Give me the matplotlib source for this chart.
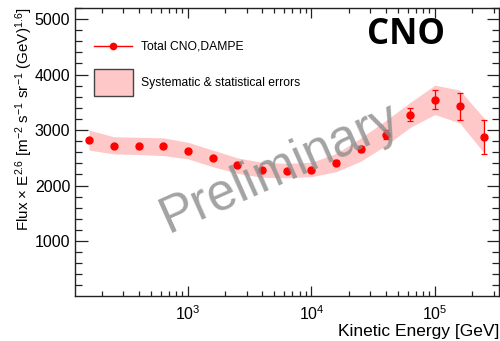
import matplotlib
matplotlib.use('Agg')
import matplotlib.pyplot as plt
from matplotlib.lines import Line2D
from matplotlib.patches import Rectangle
from matplotlib.ticker import LogLocator, MultipleLocator, NullFormatter
import numpy as np

plt.rcParams['font.family'] = ['Liberation Sans', 'DejaVu Sans']
plt.rcParams['mathtext.fontset'] = 'custom'
plt.rcParams['mathtext.rm'] = 'Liberation Sans'
plt.rcParams['mathtext.it'] = 'Liberation Sans:italic'
plt.rcParams['mathtext.default'] = 'regular'

# kinetic energy bins [GeV] and E^2.6-weighted flux
energy = [158, 251, 398, 631, 1000, 1585, 2512, 3981, 6310, 10000,
          15849, 25119, 39811, 63096, 100000, 158489, 251189]
flux = [2820, 2712, 2712, 2705, 2622, 2495, 2369, 2285, 2262, 2280,
        2415, 2658, 2920, 3280, 3550, 3430, 2880]
flux_err = [20, 20, 20, 20, 20, 20, 20, 25, 30, 35,
            45, 55, 75, 110, 175, 240, 306]
# systematic + statistical band edges
band_hi = [3000, 2880, 2870, 2860, 2780, 2640, 2500, 2420, 2400, 2420,
           2580, 2860, 3170, 3500, 3810, 3720, 3210]
band_lo = [2640, 2570, 2560, 2540, 2480, 2340, 2220, 2150, 2140, 2160,
           2250, 2440, 2720, 3050, 3280, 3130, 2580]

band_color = '#ffc8c8'

fig = plt.figure(figsize=(5.0, 3.41), dpi=100)
ax = fig.add_axes([0.15, 0.132, 0.848, 0.8445])

ax.fill_between(energy, band_lo, band_hi, color=band_color, lw=0, zorder=1)
ax.errorbar(energy, flux, yerr=flux_err, fmt='o', color='red', ms=5,
            elinewidth=0.9, capsize=2.5, capthick=0.9, zorder=3)

ax.set_xscale('log')
ax.set_xlim(121.6, 330000)
ax.set_ylim(10, 5200)

ax.yaxis.set_major_locator(MultipleLocator(1000))
ax.yaxis.set_minor_locator(MultipleLocator(200))
ax.xaxis.set_major_locator(LogLocator(base=10, numticks=10))
ax.xaxis.set_minor_locator(LogLocator(base=10, subs=np.arange(2, 10), numticks=10))
ax.xaxis.set_minor_formatter(NullFormatter())

ax.tick_params(which='both', direction='in', top=True, right=True,
               labelsize=11.5, color='#222222', width=0.9)
ax.tick_params(axis='y', which='major', length=9)
ax.tick_params(axis='y', which='minor', length=5)
ax.tick_params(axis='x', which='major', length=7, pad=6)
ax.tick_params(axis='x', which='minor', length=3.5)
for s in ax.spines.values():
    s.set_color('#222222')
    s.set_linewidth(1.0)

ax.set_xlabel('Kinetic Energy [GeV]', fontsize=12.5, loc='right', labelpad=1)
ax.set_ylabel('Flux × E$^{2.6}$ [m$^{-2}$ s$^{-1}$ sr$^{-1}$ (GeV)$^{1.6}$]',
              fontsize=10.9, loc='top', labelpad=0)

# ROOT-style legend drawn in axes coordinates
tr = ax.transAxes
ax.add_line(Line2D([0.045, 0.134], [0.868, 0.868], color='red', lw=1, transform=tr))
ax.add_line(Line2D([0.0896], [0.868], color='red', marker='o', ms=4.5, transform=tr))
ax.text(0.156, 0.868, 'Total CNO,DAMPE', transform=tr, fontsize=8.7, va='center')
ax.add_patch(Rectangle((0.045, 0.694), 0.092, 0.094, facecolor=band_color,
                       edgecolor='#444444', lw=1, transform=tr))
ax.text(0.156, 0.741, 'Systematic & statistical errors', transform=tr,
        fontsize=8.7, va='center')

ax.text(0.78, 0.905, 'CNO', transform=tr, fontsize=25,
        fontweight='bold', family='Open Sans', ha='center', va='center')

fig.text(0.56, 0.505, 'Preliminary', fontsize=37, color='#8c8c8c', alpha=0.8,
         rotation=24, ha='center', va='center', zorder=5)

fig.savefig('out.png', dpi=100)
